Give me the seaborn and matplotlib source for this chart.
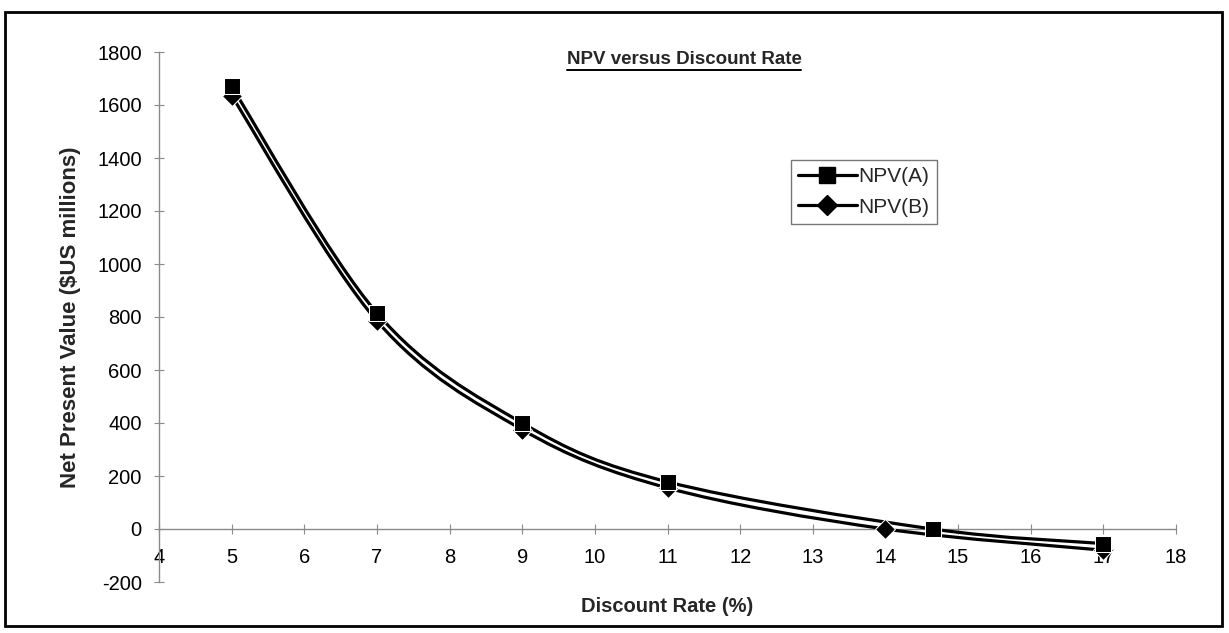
import numpy as np
import pandas as pd
import seaborn as sns
import matplotlib
matplotlib.use("Agg")
import matplotlib.pyplot as plt
from matplotlib.path import Path
from matplotlib.patches import PathPatch, Rectangle
from matplotlib.lines import Line2D

# ---- data ----
rate_a = [5, 7, 9, 11, 14.65, 17]
npv_a = [1670, 815, 400, 178, 0, -55]
rate_b = [5, 7, 9, 11, 14, 17]
npv_b = [1635, 785, 375, 155, 0, -80]
series_names = ["NPV(A)", "NPV(B)"]
x_ticks = list(range(4, 19))
y_ticks = list(range(-200, 1801, 200))

df = pd.concat([
    pd.DataFrame({"rate": rate_a, "npv": npv_a, "series": series_names[0]}),
    pd.DataFrame({"rate": rate_b, "npv": npv_b, "series": series_names[1]}),
], ignore_index=True)

sns.set_theme(style="white")
plt.rcParams["font.family"] = ["Liberation Sans", "DejaVu Sans"]
plt.rcParams["axes.unicode_minus"] = False

fig = plt.figure(figsize=(12.29, 6.33), dpi=100)
ax = fig.add_axes([159 / 1229, 1 - 582 / 633, (1176 - 159) / 1229, (582 - 52) / 633])


def smooth_path(xs, ys):
    """Excel-like smoothed line: cubic Bezier (Catmull-Rom control points)."""
    pts = np.column_stack([xs, ys]).astype(float)
    n = len(pts)
    verts = [pts[0]]
    codes = [Path.MOVETO]
    for i in range(n - 1):
        p0 = pts[i - 1] if i > 0 else pts[i]
        p1 = pts[i]
        p2 = pts[i + 1]
        p3 = pts[i + 2] if i + 2 < n else pts[i + 1]
        c1 = p1 + (p2 - p0) / 6.0
        c2 = p2 - (p3 - p1) / 6.0
        verts += [c1, c2, p2]
        codes += [Path.CURVE4] * 3
    return Path(verts, codes)


for name in series_names:
    sub = df[df["series"] == name]
    ax.add_patch(PathPatch(smooth_path(sub["rate"], sub["npv"]), fill=False,
                           edgecolor="black", lw=2.3, zorder=3, transform=ax.transData))

# markers (B first so that A's squares sit on top)
sns.lineplot(data=df[df["series"] == series_names[1]], x="rate", y="npv", ax=ax,
             marker="D", markersize=10, color="black", linewidth=0, zorder=4, legend=False)
sns.lineplot(data=df[df["series"] == series_names[0]], x="rate", y="npv", ax=ax,
             marker="s", markersize=12, color="black", linewidth=0, zorder=5, legend=False)

ax.set_xlim(4, 18)
ax.set_ylim(-200, 1800)
ax.set_xticks(x_ticks)
ax.set_yticks(y_ticks)
ax.set_xticklabels([str(t) for t in x_ticks])
ax.set_yticklabels([str(t) for t in y_ticks])

for s in ["top", "right"]:
    ax.spines[s].set_visible(False)
ax.spines["bottom"].set_position(("data", 0))
for s in ["left", "bottom"]:
    ax.spines[s].set_color("#8a8a8a")
    ax.spines[s].set_linewidth(1.0)
ax.grid(False)
ax.tick_params(axis="both", direction="inout", length=7, width=0.8, color="#8a8a8a",
               labelsize=14.5, labelcolor="black")
ax.tick_params(axis="x", pad=10, bottom=True)
ax.tick_params(axis="y", pad=9, left=True)

ax.set_xlabel("Discount Rate (%)", fontsize=14.5, fontweight="bold")
ax.set_ylabel("Net Present Value ($US millions)", fontsize=16, fontweight="bold")
ax.xaxis.set_label_coords(0.5, (582 - 597) / 530)
ax.yaxis.set_label_coords((81 - 159) / 1017, 0.5)

title = fig.text(684 / 1229, 1 - 60 / 633, "NPV versus Discount Rate", ha="center",
                 va="center", fontsize=13.5, fontweight="bold")
fig.canvas.draw()
bb = title.get_window_extent()
fig.add_artist(Line2D([bb.x0 / 1229, bb.x1 / 1229], [(bb.y0 - 1.5) / 633, (bb.y0 - 1.5) / 633],
                      transform=fig.transFigure, color="black", lw=1.4))

handles = [Line2D([0], [0], color="black", lw=2.3, marker="s", markersize=11),
           Line2D([0], [0], color="black", lw=2.3, marker="D", markersize=10)]
leg = fig.legend(handles, series_names, loc="upper left",
                 bbox_to_anchor=(791 / 1229, 1 - 160 / 633), fontsize=15,
                 frameon=True, fancybox=False, handlelength=2.8, handletextpad=0.1,
                 borderpad=0.35, labelspacing=0.55, borderaxespad=0)
leg.get_frame().set_edgecolor("#555555")
leg.get_frame().set_linewidth(1.0)

fig.patches.append(Rectangle((5 / 1229, 1 - 626 / 633), (1222 - 5) / 1229, (626 - 12) / 633,
                             transform=fig.transFigure, fill=False, edgecolor="black", lw=2))

fig.savefig("out.png", dpi=100, facecolor="white")
